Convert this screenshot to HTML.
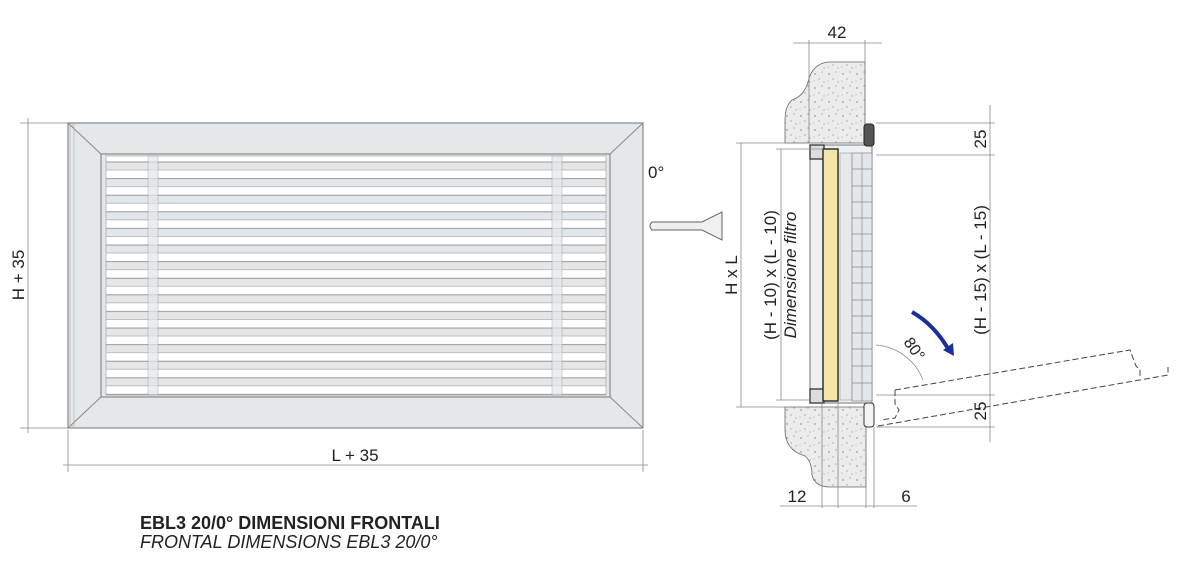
<!DOCTYPE html><html><head><style>body{margin:0;background:#fff}svg{display:block}text{font-family:"Liberation Sans",sans-serif;fill:#222}</style></head><body>
<svg width="1200" height="562" viewBox="0 0 1200 562">
<defs>
<pattern id="conc" width="14" height="14" patternUnits="userSpaceOnUse"><rect width="14" height="14" fill="#ececec"/><circle cx="3" cy="4" r=".7" fill="#777"/><circle cx="10" cy="2" r=".5" fill="#555"/><circle cx="7" cy="9" r=".6" fill="#888"/><circle cx="12" cy="12" r=".5" fill="#666"/><circle cx="2" cy="11" r=".4" fill="#555"/></pattern>
<pattern id="louv" width="600" height="16.6" patternUnits="userSpaceOnUse" y="155"><rect width="600" height="16.6" fill="#fff"/><rect y="7" width="600" height="8" fill="#e3e7ea"/><line x1="0" y1="7" x2="600" y2="7" stroke="#888" stroke-width=".8"/><line x1="0" y1="15" x2="600" y2="15" stroke="#aaa" stroke-width=".8"/></pattern>
</defs>
<rect x="68" y="123" width="575" height="305" fill="#e4e8ea" stroke="#888" stroke-width="1.2"/>
<line x1="68" y1="123" x2="101" y2="154" stroke="#888"/><line x1="643" y1="123" x2="610" y2="154" stroke="#888"/>
<line x1="68" y1="428" x2="101" y2="397" stroke="#888"/><line x1="643" y1="428" x2="610" y2="397" stroke="#888"/>
<rect x="70" y="125" width="4" height="301" fill="none" stroke="#aaa" stroke-width=".6"/>
<rect x="101" y="154" width="509" height="243" fill="#e4e8ea" stroke="#777"/>
<rect x="106" y="156" width="500" height="239" fill="url(#louv)" stroke="#999" stroke-width=".6"/>
<rect x="148" y="156" width="10" height="239" fill="#e3e7ea" opacity=".7" stroke="#999" stroke-width=".6"/>
<rect x="552" y="156" width="10" height="239" fill="#e3e7ea" opacity=".7" stroke="#999" stroke-width=".6"/>
<g stroke="#888" stroke-width=".8" fill="none">
<line x1="20" y1="123" x2="68" y2="123"/><line x1="20" y1="428" x2="68" y2="428"/>
<line x1="28" y1="118" x2="28" y2="433"/>
<line x1="68" y1="430" x2="68" y2="472"/><line x1="643" y1="430" x2="643" y2="472"/>
<line x1="63" y1="465" x2="648" y2="465"/>
</g>
<text x="24" y="275" font-size="17" transform="rotate(-90 24 275)" text-anchor="middle">H + 35</text>
<text x="355" y="461" font-size="17" text-anchor="middle">L + 35</text>
<text x="648" y="178" font-size="17">0°</text>
<path d="M652 222 H702 L722 212 V240 L702 230 H652 Q648 226 652 222Z" fill="#eef0f2" stroke="#666"/>
<path d="M865 62 H828 Q812 64 808 82 Q804 96 792 100 Q785 106 785 120 V143 H865Z" fill="url(#conc)" stroke="#666" stroke-width=".8"/>
<path d="M866 407 H785 V430 Q785 450 805 456 Q812 462 812 475 Q815 487 830 487 H866Z" fill="url(#conc)" stroke="#666" stroke-width=".8"/>
<rect x="810" y="145" width="62" height="258" fill="#eef0f2" stroke="#777"/>
<rect x="810" y="145" width="14" height="14" fill="#ddd" stroke="#333" stroke-width="1.3"/>
<rect x="810" y="389" width="14" height="14" fill="#ddd" stroke="#333" stroke-width="1.3"/>
<rect x="823" y="149" width="15" height="252" fill="#f3e6a6" stroke="#333" stroke-width="1.5"/>
<rect x="840" y="153" width="12" height="247" fill="#e6e9eb" stroke="#999" stroke-width=".6"/>
<rect x="852" y="153" width="20" height="248" fill="#e3e7ea" stroke="#888" stroke-width=".7"/>
<g stroke="#888" stroke-width=".7">
<line x1="852" y1="169" x2="872" y2="169"/><line x1="852" y1="186" x2="872" y2="186"/><line x1="852" y1="202" x2="872" y2="202"/><line x1="852" y1="218" x2="872" y2="218"/><line x1="852" y1="234" x2="872" y2="234"/><line x1="852" y1="251" x2="872" y2="251"/><line x1="852" y1="267" x2="872" y2="267"/><line x1="852" y1="283" x2="872" y2="283"/><line x1="852" y1="300" x2="872" y2="300"/><line x1="852" y1="316" x2="872" y2="316"/><line x1="852" y1="333" x2="872" y2="333"/><line x1="852" y1="349" x2="872" y2="349"/><line x1="852" y1="366" x2="872" y2="366"/><line x1="852" y1="383" x2="872" y2="383"/>
<line x1="862" y1="153" x2="862" y2="401"/>
</g>
<rect x="864" y="124" width="10" height="22" rx="3" fill="#555" stroke="#222"/>
<rect x="864" y="403" width="10" height="24" rx="3" fill="#f4f4f4" stroke="#333"/>
<g stroke="#888" stroke-width=".8" fill="none">
<line x1="809" y1="40" x2="809" y2="143"/><line x1="865" y1="40" x2="865" y2="62"/>
<line x1="793" y1="43" x2="882" y2="43"/>
<line x1="736" y1="143" x2="810" y2="143"/><line x1="736" y1="407" x2="785" y2="407"/>
<line x1="741" y1="143" x2="741" y2="407"/>
<line x1="776" y1="149" x2="823" y2="149"/><line x1="776" y1="400" x2="810" y2="400"/>
<line x1="781" y1="149" x2="781" y2="400"/>
<line x1="876" y1="123" x2="995" y2="123"/><line x1="876" y1="155" x2="995" y2="155"/>
<line x1="876" y1="395" x2="995" y2="395"/><line x1="876" y1="427" x2="995" y2="427"/>
<line x1="990" y1="105" x2="990" y2="442"/>
<line x1="822" y1="403" x2="822" y2="508"/><line x1="838" y1="403" x2="838" y2="508"/><line x1="866" y1="487" x2="866" y2="508"/><line x1="874" y1="427" x2="874" y2="508"/>
<line x1="780" y1="506" x2="917" y2="506"/>
<path d="M876 345 A55 55 0 0 1 923 380"/>
</g>
<g stroke="#444" stroke-width="1" stroke-dasharray="6 3" fill="none">
<path d="M895 390 L1130 350 L1136 366 L1140 370 L1140 378"/>
<path d="M895 390 L895 404 L899 410 L897 414 L895 418 L880 420"/>
<path d="M878 426 L1168 375 L1168 367"/>
</g>
<path d="M912 312 Q935 325 950 352" stroke="#1a2f9a" stroke-width="4" fill="none"/>
<path d="M943 350 L954 356 L953 343Z" fill="#1a2f9a"/>
<text x="837" y="38" font-size="17" text-anchor="middle">42</text>
<text x="737" y="275" font-size="17" transform="rotate(-90 737 275)" text-anchor="middle">H x L</text>
<text x="776" y="275" font-size="17" transform="rotate(-90 776 275)" text-anchor="middle">(H - 10) x (L - 10)</text>
<text x="796" y="275" font-size="17" font-style="italic" transform="rotate(-90 796 275)" text-anchor="middle">Dimensione filtro</text>
<text x="986" y="270" font-size="17" transform="rotate(-90 986 270)" text-anchor="middle">(H - 15) x (L - 15)</text>
<text x="986" y="139" font-size="17" transform="rotate(-90 986 139)" text-anchor="middle">25</text>
<text x="986" y="411" font-size="17" transform="rotate(-90 986 411)" text-anchor="middle">25</text>
<text x="910" y="352" font-size="16" transform="rotate(55 910 352)" text-anchor="middle">80°</text>
<text x="797" y="502" font-size="17" text-anchor="middle">12</text>
<text x="906" y="502" font-size="17" text-anchor="middle">6</text>
<text x="140" y="529" font-size="18" font-weight="bold" fill="#111">EBL3 20/0° DIMENSIONI FRONTALI</text>
<text x="140" y="548" font-size="18" font-style="italic">FRONTAL DIMENSIONS EBL3 20/0°</text>
</svg></body></html>
